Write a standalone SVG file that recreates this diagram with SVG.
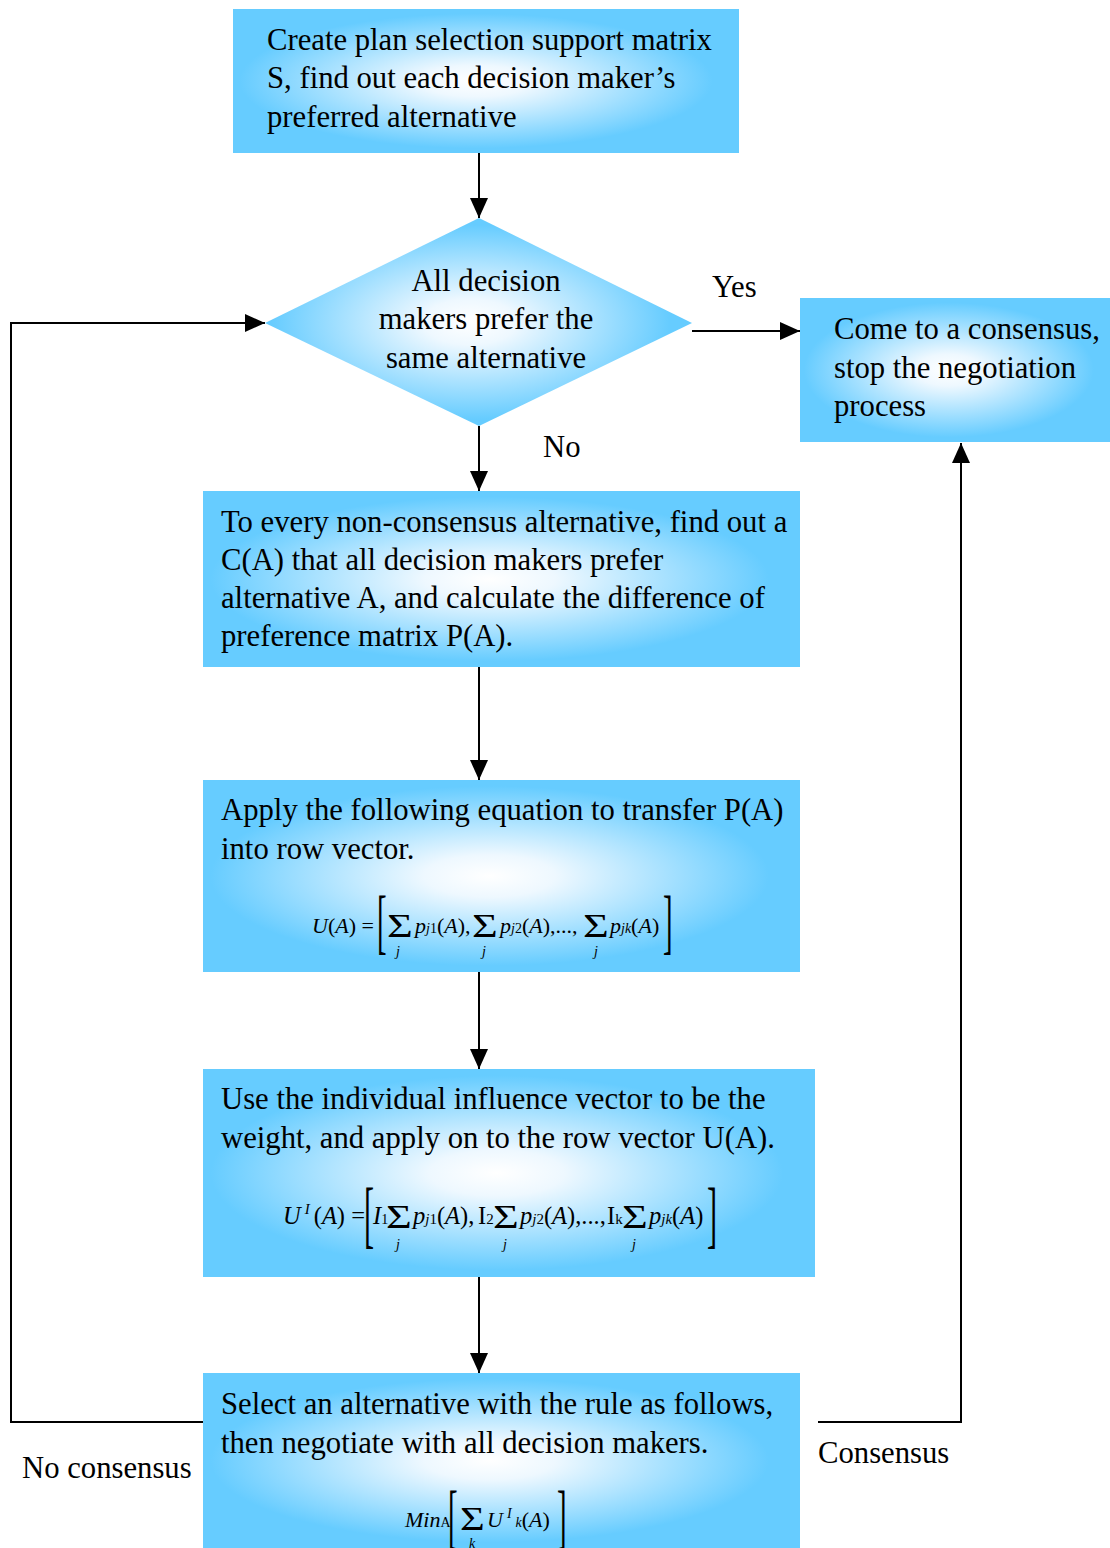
<svg xmlns="http://www.w3.org/2000/svg" width="1110" height="1548" viewBox="0 0 1110 1548">
<style>
.t{font-family:"Liberation Serif","Times New Roman",serif;font-size:30.7px;fill:#000}
.m{font-family:"Liberation Serif","Times New Roman",serif;font-size:22px;fill:#000;font-style:italic}
.m2{font-size:24.5px}
.u{font-style:normal}
.s{font-size:14px}
.s2{font-size:15px}
.sig{font-family:"Liberation Serif","Times New Roman",serif;font-size:34px;fill:#000;font-style:normal}
.br{font-family:"Liberation Serif","Times New Roman",serif;font-size:72px;fill:#000}
.ln{fill:none;stroke:#000;stroke-width:2}
</style>
<defs>
<radialGradient id="g" cx="0.48" cy="0.5" r="0.55">
<stop offset="0" stop-color="#ffffff"/>
<stop offset="0.2" stop-color="#eef8ff"/>
<stop offset="0.85" stop-color="#66ccff"/>
<stop offset="1" stop-color="#66ccff"/>
</radialGradient>
<marker id="ah" markerUnits="userSpaceOnUse" markerWidth="22" markerHeight="20" refX="20" refY="9" orient="auto">
<path d="M0,0 L20,9 L0,18 Z" fill="#000"/>
</marker>
</defs>

<g id="connectors">
<line class="ln" x1="479" y1="153" x2="479" y2="218" marker-end="url(#ah)"/>
<line class="ln" x1="692" y1="331" x2="800" y2="331" marker-end="url(#ah)"/>
<line class="ln" x1="479" y1="426" x2="479" y2="491" marker-end="url(#ah)"/>
<line class="ln" x1="479" y1="667" x2="479" y2="780" marker-end="url(#ah)"/>
<line class="ln" x1="479" y1="972" x2="479" y2="1069" marker-end="url(#ah)"/>
<line class="ln" x1="479" y1="1277" x2="479" y2="1373" marker-end="url(#ah)"/>
<polyline class="ln" points="203,1422 11,1422 11,323 265,323" marker-end="url(#ah)"/>
<polyline class="ln" points="818,1422 961,1422 961,443" marker-end="url(#ah)"/>
<text class="t" x="712" y="297">Yes</text>
<text class="t" x="543" y="457">No</text>
<text class="t" x="22" y="1478">No consensus</text>
<text class="t" x="818" y="1463">Consensus</text>
</g>

<g id="n1">
<rect x="233" y="9" width="506" height="144" fill="url(#g)"/>
<text class="t" x="267" y="50">Create plan selection support matrix</text>
<text class="t" x="267" y="88">S, find out each decision maker’s</text>
<text class="t" x="267" y="127">preferred alternative</text>
</g>

<g id="n2">
<polygon points="479,218 692,323 479,426 265,323" fill="url(#g)"/>
<text class="t" x="486" y="291" text-anchor="middle">All decision</text>
<text class="t" x="486" y="329" text-anchor="middle">makers prefer the</text>
<text class="t" x="486" y="368" text-anchor="middle">same alternative</text>
</g>

<g id="n3">
<rect x="800" y="298" width="310" height="144" fill="url(#g)"/>
<text class="t" x="834" y="339">Come to a consensus,</text>
<text class="t" x="834" y="378">stop the negotiation</text>
<text class="t" x="834" y="416">process</text>
</g>

<g id="n4">
<rect x="203" y="491" width="597" height="176" fill="url(#g)"/>
<text class="t" x="221" y="532">To every non-consensus alternative, find out a</text>
<text class="t" x="221" y="570">C(A) that all decision makers prefer</text>
<text class="t" x="221" y="608">alternative A, and calculate the difference of</text>
<text class="t" x="221" y="646">preference matrix P(A).</text>
</g>

<g id="n5">
<rect x="203" y="780" width="597" height="192" fill="url(#g)"/>
<text class="t" x="221" y="820">Apply the following equation to transfer P(A)</text>
<text class="t" x="221" y="859">into row vector.</text>
<text class="m" x="312" y="933">U<tspan class="u">(</tspan>A<tspan class="u">) =</tspan></text>
<text class="br" transform="translate(377,945) scale(0.4,1)">[</text>
<text class="sig" transform="translate(387,937) scale(1.3,1)">Σ</text>
<text class="m s" x="396" y="956">j</text>
<text class="m" x="415" y="933">p<tspan class="s">j</tspan><tspan class="s u">1</tspan><tspan class="u">(</tspan>A<tspan class="u">),</tspan></text>
<text class="sig" transform="translate(472,937) scale(1.3,1)">Σ</text>
<text class="m s" x="482" y="956">j</text>
<text class="m" x="500" y="933">p<tspan class="s">j</tspan><tspan class="s u">2</tspan><tspan class="u">(</tspan>A<tspan class="u">),...,</tspan></text>
<text class="sig" transform="translate(583,937) scale(1.3,1)">Σ</text>
<text class="m s" x="594" y="956">j</text>
<text class="m" x="610" y="933">p<tspan class="s">jk</tspan><tspan class="u">(</tspan>A<tspan class="u">)</tspan></text>
<text class="br" transform="translate(663,945) scale(0.4,1)">]</text>
</g>

<g id="n6">
<rect x="203" y="1069" width="612" height="208" fill="url(#g)"/>
<text class="t" x="221" y="1109">Use the individual influence vector to be the</text>
<text class="t" x="221" y="1148">weight, and apply on to the row vector U(A).</text>
<text class="m m2" x="283" y="1224">U<tspan class="s2" dy="-10" dx="4">I</tspan><tspan class="u" dy="10" dx="4">(</tspan>A<tspan class="u">) =</tspan></text>
<text class="br" transform="translate(364,1239) scale(0.42,1.03)">[</text>
<text class="m m2" x="373" y="1224">I<tspan class="s u">1</tspan></text>
<text class="sig" transform="translate(386,1228) scale(1.3,1)">Σ</text>
<text class="m s" x="396" y="1249">j</text>
<text class="m m2" x="413" y="1224">p<tspan class="s2">j</tspan><tspan class="s2 u">1</tspan><tspan class="u">(</tspan>A<tspan class="u">),</tspan></text>
<text class="m m2 u" x="478" y="1224">I<tspan class="s2">2</tspan></text>
<text class="sig" transform="translate(493,1228) scale(1.3,1)">Σ</text>
<text class="m s" x="503" y="1249">j</text>
<text class="m m2" x="520" y="1224">p<tspan class="s2">j</tspan><tspan class="s2 u">2</tspan><tspan class="u">(</tspan>A<tspan class="u">),...,</tspan></text>
<text class="m m2 u" x="607" y="1224">I<tspan class="s2">k</tspan></text>
<text class="sig" transform="translate(622,1228) scale(1.3,1)">Σ</text>
<text class="m s" x="632" y="1249">j</text>
<text class="m m2" x="649" y="1224">p<tspan class="s2">jk</tspan><tspan class="u">(</tspan>A<tspan class="u">)</tspan></text>
<text class="br" transform="translate(707,1239) scale(0.42,1.03)">]</text>
</g>

<g id="n7">
<rect x="203" y="1373" width="597" height="175" fill="url(#g)"/>
<text class="t" x="221" y="1414">Select an alternative with the rule as follows,</text>
<text class="t" x="221" y="1453">then negotiate with all decision makers.</text>
<text class="m" x="405" y="1527">Min<tspan class="s u">A</tspan></text>
<text class="br" transform="translate(448,1540) scale(0.4,1)">[</text>
<text class="sig" transform="translate(460,1530) scale(1.25,1)">Σ</text>
<text class="m s" x="469" y="1548">k</text>
<text class="m" x="487" y="1527">U<tspan class="s" dy="-9" dx="4">I</tspan><tspan class="s" dy="9" dx="4">k</tspan><tspan class="u">(</tspan>A<tspan class="u">)</tspan></text>
<text class="br" transform="translate(557,1540) scale(0.4,1)">]</text>
</g>
</svg>
